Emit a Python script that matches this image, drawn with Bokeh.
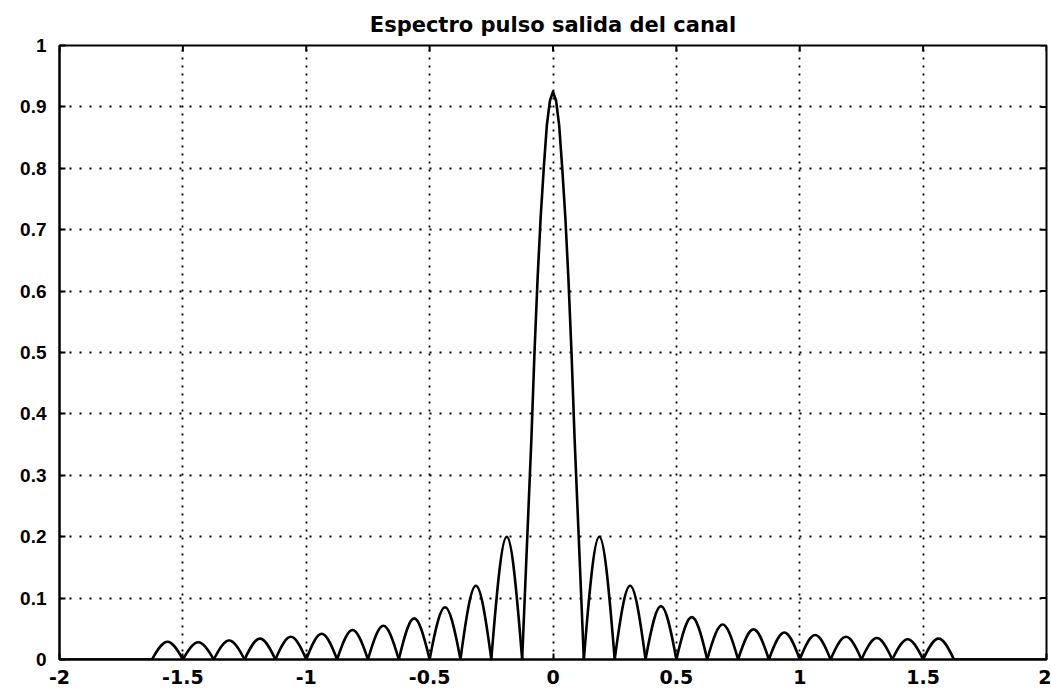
import math
from bokeh.plotting import figure
from bokeh.models import FixedTicker, Range1d, ColumnDataSource
from bokeh.embed import file_html
from bokeh.resources import INLINE

title_text = "Espectro pulso salida del canal"

x_ticks = [-2, -1.5, -1, -0.5, 0, 0.5, 1, 1.5, 2]
x_tick_labels = ["-2", "-1.5", "-1", "-0.5", "0", "0.5", "1", "1.5", "2"]
y_ticks = [0, 0.1, 0.2, 0.3, 0.4, 0.5, 0.6, 0.7, 0.8, 0.9, 1.0]
y_tick_labels = ["0", "0.1", "0.2", "0.3", "0.4", "0.5", "0.6", "0.7", "0.8", "0.9", "1"]

# main lobe
main_x = [-0.125, -0.1125, -0.1, -0.0875, -0.075, -0.0625, -0.05, -0.0375, -0.025, -0.0125, 0.0,
          0.0125, 0.025, 0.0375, 0.05, 0.0625, 0.075, 0.0875, 0.1, 0.1125, 0.125]
main_y = [0.0, 0.12, 0.24, 0.36, 0.50, 0.62, 0.72, 0.80, 0.87, 0.91, 0.925,
          0.91, 0.87, 0.80, 0.72, 0.62, 0.50, 0.36, 0.24, 0.12, 0.0]

# side lobes: left zero, right zero, peak height
lobe_left = [-1.625, -1.5, -1.375, -1.25, -1.125, -1.0, -0.875, -0.75, -0.625, -0.5, -0.375, -0.25,
             0.125, 0.25, 0.375, 0.5, 0.625, 0.75, 0.875, 1.0, 1.125, 1.25, 1.375, 1.5]
lobe_right = [-1.5, -1.375, -1.25, -1.125, -1.0, -0.875, -0.75, -0.625, -0.5, -0.375, -0.25, -0.125,
              0.25, 0.375, 0.5, 0.625, 0.75, 0.875, 1.0, 1.125, 1.25, 1.375, 1.5, 1.625]
lobe_peak = [0.029, 0.028, 0.031, 0.034, 0.037, 0.042, 0.048, 0.055, 0.067, 0.085, 0.120, 0.200,
             0.200, 0.120, 0.087, 0.069, 0.057, 0.049, 0.044, 0.040, 0.037, 0.035, 0.033, 0.034]

# flat parts of the spectrum (zero outside the band)
flat_left_x = [-2.0, -1.625]
flat_right_x = [1.625, 2.0]
flat_y = [0.0, 0.0]

x_min, x_max = -2, 2
y_min, y_max = 0, 1

p = figure(width=1051, height=691, x_range=Range1d(x_min, x_max), y_range=Range1d(y_min, y_max),
           output_backend="svg", toolbar_location=None,
           min_border_left=59, min_border_right=5, min_border_top=45, min_border_bottom=32)
p.background_fill_color = "white"
p.border_fill_color = "white"
p.outline_line_color = "black"
p.outline_line_width = 2

p.title.text = title_text
p.title.align = "center"
p.title.text_font = "DejaVu Sans"
p.title.text_font_size = "21px"
p.title.text_font_style = "bold"
p.title.text_color = "black"
p.title.standoff = 17

p.xaxis.ticker = FixedTicker(ticks=x_ticks)
p.xaxis.major_label_overrides = {t: l for t, l in zip(x_ticks, x_tick_labels)}
p.yaxis.ticker = FixedTicker(ticks=y_ticks)
p.yaxis.major_label_overrides = {t: l for t, l in zip(y_ticks, y_tick_labels)}

for ax in (p.xaxis[0], p.yaxis[0]):
    ax.axis_line_width = 2
    ax.axis_line_color = "black"
    ax.major_tick_in = 6
    ax.major_tick_out = 0
    ax.major_tick_line_width = 2
    ax.major_tick_line_color = "black"
    ax.minor_tick_line_color = None
    ax.major_label_text_font_style = "bold"
    ax.major_label_text_color = "black"

p.xaxis.major_label_text_font = "DejaVu Sans"
p.xaxis.major_label_text_font_size = "19px"
p.xaxis.major_label_standoff = 10
p.yaxis.major_label_text_font = "Liberation Sans"
p.yaxis.major_label_text_font_size = "19px"
p.yaxis.major_label_standoff = 13

p.xgrid.ticker = FixedTicker(ticks=x_ticks)
p.ygrid.ticker = FixedTicker(ticks=y_ticks)
p.xgrid.grid_line_color = "black"
p.xgrid.grid_line_dash = "2 6"
p.xgrid.grid_line_width = 1.8
p.ygrid.grid_line_color = "black"
p.ygrid.grid_line_dash = "2 8"
p.ygrid.grid_line_width = 1.8

# inward tick marks on the top and right edges of the box
p.scatter(x=x_ticks, y=[y_max] * len(x_ticks), marker="dash", angle=math.pi / 2, size=12,
          line_color="black", line_width=2)
p.scatter(x=[x_max] * len(y_ticks), y=y_ticks, marker="dash", size=12,
          line_color="black", line_width=2)

# main lobe
p.line(main_x, main_y, line_color="black", line_width=2.6, line_join="round")

# side lobes as arches
k = 4.0 / 3.0
a = 0.424
lobe_src = ColumnDataSource(dict(
    x0=lobe_left, x1=lobe_right, y0=[0.0] * len(lobe_left), y1=[0.0] * len(lobe_left),
    cx0=[l + a * (r - l) for l, r in zip(lobe_left, lobe_right)],
    cx1=[r - a * (r - l) for l, r in zip(lobe_left, lobe_right)],
    cy0=[k * h for h in lobe_peak], cy1=[k * h for h in lobe_peak],
))
p.bezier(x0="x0", y0="y0", x1="x1", y1="y1", cx0="cx0", cy0="cy0", cx1="cx1", cy1="cy1",
         source=lobe_src, line_color="black", line_width=2.6)

p.line(flat_left_x, flat_y, line_color="black", line_width=2.6)
p.line(flat_right_x, flat_y, line_color="black", line_width=2.6)

open("out.html", "w").write(file_html(p, INLINE))
